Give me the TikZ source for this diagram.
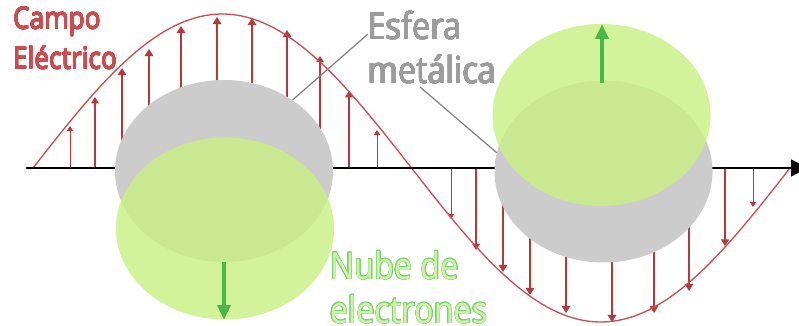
\documentclass[tikz,border=0pt]{standalone}
\usepackage{fontspec}
\usepackage[copies]{contour}
\usepackage{tikz}
\usetikzlibrary{arrows.meta}
\usetikzlibrary{shapes.geometric}
\setmainfont{Noto Sans}
\newfontfamily\labelfont[FakeStretch=0.87]{Noto Sans}
\definecolor{fieldred}{HTML}{B5383C}
\definecolor{labelred}{HTML}{CC4B4D}
\definecolor{spheregray}{HTML}{CCCCCC}
\definecolor{leadgray}{HTML}{7F7F7F}
\definecolor{textgray}{HTML}{9C9C9C}
\definecolor{cloudgreen}{HTML}{C9F081}
\definecolor{pushgreen}{HTML}{48B848}
\definecolor{rimgreen}{HTML}{78D06E}
\definecolor{softgreen}{HTML}{CFF2A8}
\contournumber{16}
\newcommand\heavy[2]{\contourlength{#1}\contour{.}{#2}}
\newcommand\rimmed[1]{\contourlength{0.55pt}\contour{rimgreen}{#1}}
\tikzset{
  sphere/.style={ellipse, fill=spheregray, inner sep=0pt, minimum width=218pt, minimum height=182pt},
  cloud/.style={ellipse, fill=cloudgreen, fill opacity=.8, inner sep=0pt, minimum width=218pt, minimum height=182pt},
  push/.style={line width=4pt, pushgreen, -{Triangle[length=15pt, width=13pt]}},
  lead/.style={line width=1.2pt, leadgray},
  caption/.style={inner sep=0pt, anchor=north west, align=left, font=\labelfont}
}
\begin{document}
\begin{tikzpicture}[x=1pt, y=-1pt]
    \path[use as bounding box, clip] (0,0) rectangle (799,326);
    \fill[white] (0,0) rectangle (799,326);

    % field vectors, positive half then negative half
    \foreach \px/\py/\lw in {70/126/1, 95/97/1.5, 122/68/1.8, 149/49/1.8, 181/26/1.8, 217/17/1.8, 252/18/1.8, 287/30/1.8, 320/56/1.4, 349/91/1.5, 377/130/1}{
      \coordinate (a) at (\px,168);
      \coordinate (b) at (\px,\py);
      \draw[fieldred, line width=\lw pt, -{Triangle[length=2.5pt+2.6*\lw pt, width=3.5pt+2.8*\lw pt]}] (a) -- (b);
    }
    \foreach \px/\py/\lw in {451/219/1, 476/250/1.4, 503/272/1.8, 530/295/1.8, 566/313/1.8, 612/322/1.8, 654/313/1.8, 689/291/1.8, 725/246/1.6, 753/207/1}{
      \coordinate (a) at (\px,168);
      \coordinate (b) at (\px,\py);
      \draw[fieldred, line width=\lw pt, -{Triangle[length=2.5pt+2.6*\lw pt, width=3.5pt+2.8*\lw pt]}] (a) -- (b);
    }

    % wave and axis
    \draw[labelred, line width=1.3pt] plot[domain=33:790, samples=150] (\x,{168-154*sin((\x-33)/757*360)});
    \coordinate (axisstart) at (26,168);
    \coordinate (axisend) at (808,168);
    \draw[line width=1.2pt, -{Triangle[length=17pt, width=17pt]}] (axisstart) -- (axisend);

    % spheres and clouds
    \node[sphere] (sphL) at (224,171) {};
    \node[sphere] (sphR) at (603.5,171.5) {};
    \node[cloud] (cloudL) at (225,228.5) {};
    \node[cloud] (cloudR) at (601.5,115) {};

    \coordinate (pushLa) at (224,262);
    \coordinate (pushLb) at (224,320);
    \coordinate (pushRa) at (602,83);
    \coordinate (pushRb) at (602,24);
    \draw[push] (pushLa) -- (pushLb);
    \draw[push] (pushRa) -- (pushRb);

    % labels
    \node[caption, text=labelred, font=\labelfont\fontsize{30}{40}\selectfont] (fieldlbl) at (13,7) {\heavy{0.25pt}{Campo}\\\heavy{0.25pt}{Eléctrico}};
    \node[caption, text=textgray, font=\labelfont\fontsize{37}{44}\selectfont] (spherelbl) at (368,11) {\heavy{0.3pt}{Esfera}\\\heavy{0.3pt}{metálica}};
    \node[caption, text=softgreen, font=\labelfont\fontsize{37}{44}\selectfont] (cloudlbl) at (330,251) {\rimmed{Nube de}\\\rimmed{electrones}};

    \coordinate (leadA) at (368,34);
    \coordinate (leadB) at (420,87);
    \draw[lead] (leadA) -- (sphL.46);
    \draw[lead] (leadB) -- (sphR.170);
\end{tikzpicture}
\end{document}
